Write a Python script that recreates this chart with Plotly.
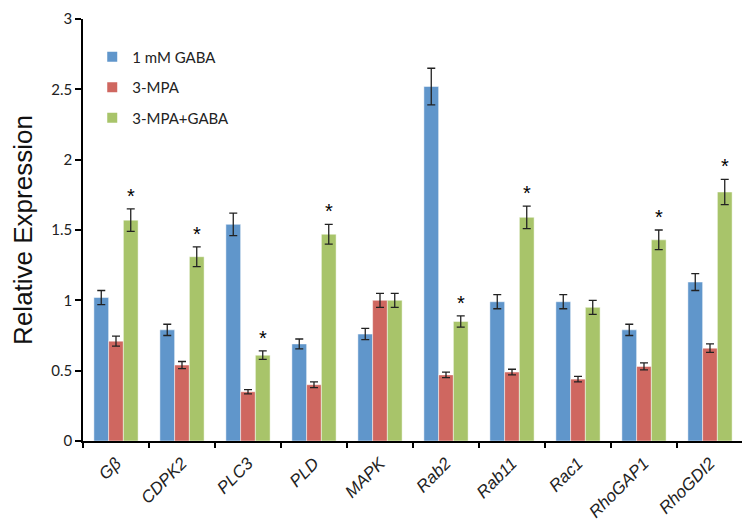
import plotly.graph_objects as go

genes = ["Gβ", "CDPK2", "PLC3", "PLD", "MAPK", "Rab2", "Rab11", "Rac1", "RhoGAP1", "RhoGDI2"]
series_names = ["1 mM GABA", "3-MPA", "3-MPA+GABA"]
gaba = [1.02, 0.79, 1.54, 0.69, 0.76, 2.52, 0.99, 0.99, 0.79, 1.13]
gaba_err = [0.05, 0.04, 0.08, 0.035, 0.04, 0.13, 0.05, 0.05, 0.04, 0.06]
mpa = [0.71, 0.54, 0.35, 0.40, 1.00, 0.47, 0.49, 0.44, 0.53, 0.66]
mpa_err = [0.035, 0.025, 0.015, 0.02, 0.05, 0.02, 0.02, 0.02, 0.025, 0.03]
mpa_gaba = [1.57, 1.31, 0.61, 1.47, 1.00, 0.85, 1.59, 0.95, 1.43, 1.77]
mpa_gaba_err = [0.08, 0.07, 0.03, 0.07, 0.05, 0.04, 0.08, 0.05, 0.07, 0.09]
significant = [True, True, True, True, False, True, True, False, True, True]
y_ticks = [0, 0.5, 1, 1.5, 2, 2.5, 3]
y_tick_labels = ["0", "0.5", "1", "1.5", "2", "2.5", "3"]

colors = ["#6096CB", "#CF6760", "#A8C46A"]

fig = go.Figure()
for i, (name, vals, errs) in enumerate(zip(series_names, [gaba, mpa, mpa_gaba], [gaba_err, mpa_err, mpa_gaba_err])):
    fig.add_trace(go.Bar(
        x=genes, y=vals, name=name, legendgroup=name, showlegend=False,
        marker=dict(color=colors[i], line=dict(color="rgba(255,255,255,0.6)", width=0.8)),
        error_y=dict(type="data", array=errs, visible=True, color="#222222", thickness=1.3, width=4),
    ))
# legend entries with square swatches
for i, name in enumerate(series_names):
    fig.add_trace(go.Scatter(
        x=[None], y=[None], mode="markers", name=name, legendgroup=name,
        marker=dict(symbol="square", size=10, color=colors[i]),
    ))

for g, v, e, s in zip(genes, mpa_gaba, mpa_gaba_err, significant):
    if s:
        fig.add_annotation(x=g, y=v + e, text="*", showarrow=False, xshift=14.7, yshift=0,
                           yanchor="bottom", font=dict(family="Liberation Sans", size=20, color="black"))

fig.update_layout(
    width=750, height=523,
    margin=dict(l=75, r=15, t=11, b=90, autoexpand=False),
    paper_bgcolor="white", plot_bgcolor="white",
    barmode="group", bargap=0.33, bargroupgap=0,
    showlegend=True,
    legend=dict(x=0.014, y=0.949, xanchor="left", yanchor="top", bgcolor="rgba(0,0,0,0)",
                font=dict(family="Lato", size=15, color="#222"), tracegroupgap=8, itemwidth=30),
    font=dict(family="Lato", color="#222"),
)
fig.update_xaxes(
    tickvals=genes, ticktext=["<i>%s</i>" % g for g in genes],
    tickangle=-45, tickfont=dict(family="Liberation Sans", size=17, color="#222"),
    showline=True, linecolor="black", linewidth=1.5, ticks="outside", tickson="boundaries",
    ticklen=5, tickcolor="black", tickwidth=1.5, range=[-0.5, 9.5], showgrid=False,
    ticklabelstandoff=4, automargin=False,
)
fig.update_yaxes(
    range=[0, 3], tickvals=y_ticks, ticktext=y_tick_labels,
    tickfont=dict(family="Lato", size=15, color="#222"), ticklabeloverflow="allow",
    showline=True, linecolor="black", linewidth=1.5, ticks="outside", ticklen=6,
    tickcolor="black", tickwidth=1.5, showgrid=False, zeroline=False, automargin=False,
    title=dict(text="Relative Expression", font=dict(family="Liberation Sans", size=26, color="#111"), standoff=16),
)
fig.write_html("out.html")
